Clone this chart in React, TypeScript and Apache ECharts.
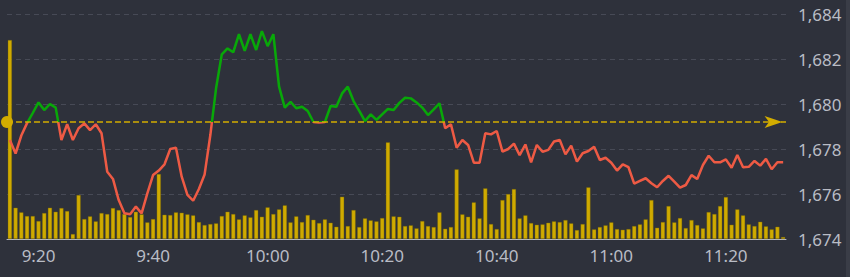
import React, { useEffect, useRef } from 'react';
import * as echarts from 'echarts';

const BASELINE = 1679.2;
const PRICE_MIN = 1674;
const PRICE_MAX = 1684;
const PRICE_STEP = 2;
const VOLUME_MAX = 2250;
const SESSION_START = '9:15';
const LABEL_MINUTES = ['00', '20', '40'];

const prices = [
  1678.4, 1677.8, 1678.6, 1679.15, 1679.6, 1680.07, 1679.73, 1680.0, 1679.84, 1678.4,
  1679.1, 1678.4, 1678.92, 1679.14, 1678.84, 1679.1, 1678.7, 1676.99, 1676.67, 1675.73,
  1675.14, 1675.1, 1675.44, 1675.14, 1676.03, 1676.84, 1677.04, 1677.32, 1678.0, 1678.06,
  1676.77, 1675.96, 1675.7, 1676.22, 1676.87, 1678.62, 1680.7, 1682.21, 1682.47, 1682.3,
  1683.1, 1682.36, 1683.1, 1682.4, 1683.24, 1682.57, 1683.1, 1680.77, 1679.84, 1680.1,
  1679.81, 1679.88, 1679.69, 1679.2, 1679.18, 1679.2, 1679.91, 1679.88, 1680.47, 1680.77,
  1680.13, 1679.69, 1679.24, 1679.54, 1679.29, 1679.54, 1679.78, 1679.73, 1680.05, 1680.28,
  1680.25, 1680.07, 1679.84, 1679.51, 1679.76, 1680.03, 1678.92, 1679.1, 1678.06, 1678.4,
  1678.18, 1677.39, 1677.39, 1678.7, 1678.65, 1678.8, 1677.88, 1678.0, 1678.24, 1677.73,
  1678.2, 1677.41, 1678.18, 1677.88, 1677.96, 1678.33, 1678.4, 1677.76, 1678.15, 1677.44,
  1677.81, 1677.91, 1678.1, 1677.51, 1677.61, 1677.39, 1677.04, 1677.32, 1677.19, 1676.46,
  1676.58, 1676.7, 1676.48, 1676.3, 1676.58, 1676.81, 1676.55, 1676.28, 1676.4, 1676.84,
  1676.67, 1677.29, 1677.7, 1677.41, 1677.41, 1677.54, 1677.17, 1677.73, 1677.19, 1677.21,
  1677.47, 1677.26, 1677.56, 1677.1, 1677.41, 1677.41,
];

const volumes = [
  1990, 313, 267, 230, 230, 180, 260, 313, 273, 310,
  280, 50, 440, 200, 227, 177, 260, 250, 310, 290,
  250, 220, 273, 247, 167, 200, 650, 243, 240, 267,
  263, 247, 237, 170, 140, 150, 157, 230, 273, 250,
  197, 237, 217, 290, 223, 317, 250, 297, 337, 167,
  227, 170, 240, 193, 160, 197, 163, 123, 423, 130,
  290, 120, 207, 187, 177, 210, 967, 227, 223, 130,
  137, 107, 180, 130, 120, 267, 103, 120, 697, 247,
  223, 367, 207, 507, 150, 100, 390, 450, 500, 207,
  237, 160, 143, 147, 163, 177, 170, 190, 157, 90,
  150, 517, 97, 120, 137, 167, 100, 93, 100, 130,
  147, 197, 390, 113, 170, 330, 167, 210, 110, 190,
  140, 107, 270, 250, 330, 420, 143, 297, 237, 147,
  130, 173, 127, 97, 123, 20,
];

// one category per trading minute, from the session start
const times: string[] = (() => {
  const [h, m] = SESSION_START.split(':').map(Number);
  const start = h * 60 + m;
  return prices.map((_, i) => {
    const t = start + i;
    return `${Math.floor(t / 60)}:${String(t % 60).padStart(2, '0')}`;
  });
})();

const isLabelTick = (_i: number, value: string) => LABEL_MINUTES.includes(String(value).split(':')[1]);

const ARROW = 'path://M0,0 L8.4,25 L0,18.75 L-8.4,25 Z';

export default function App() {
  const ref = useRef<HTMLDivElement>(null);
  useEffect(() => {
    const chart = echarts.init(ref.current!, null, { renderer: 'svg' });
    const axisColor = '#b6b9c2';
    const textColor = '#b9bcc5';
    const yellow = '#d2ac00';
    const up = '#08a808';
    const down = '#ee5a44';
    chart.setOption({
      animation: false,
      backgroundColor: '#2e313b',
      textStyle: { fontFamily: 'Noto Sans, sans-serif' },
      grid: { left: 7, right: 64, top: 14, bottom: 38 },
      graphic: [
        {
          type: 'rect',
          right: 0,
          top: 0,
          shape: { width: 4, height: 277 },
          style: { fill: '#3a3d47' },
          silent: true,
        },
      ],
      xAxis: {
        type: 'category',
        data: times,
        boundaryGap: true,
        axisLine: { lineStyle: { color: axisColor, width: 1 } },
        axisTick: { alignWithLabel: true, interval: isLabelTick, length: 5, lineStyle: { color: axisColor } },
        axisLabel: { interval: isLabelTick, color: textColor, fontSize: 17, margin: 8 },
        splitLine: { show: false },
      },
      yAxis: [
        {
          type: 'value',
          position: 'right',
          min: PRICE_MIN,
          max: PRICE_MAX,
          interval: PRICE_STEP,
          axisLine: { show: false },
          axisTick: { show: false },
          axisLabel: {
            color: textColor,
            fontSize: 17,
            margin: 12,
            formatter: (v: number) => v.toLocaleString('en-US'),
          },
          splitLine: { lineStyle: { color: '#474a56', type: [5, 4], width: 1 } },
        },
        { type: 'value', min: 0, max: VOLUME_MAX, show: false, splitLine: { show: false } },
      ],
      visualMap: {
        show: false,
        type: 'piecewise',
        seriesIndex: 0,
        dimension: 1,
        pieces: [
          { gte: PRICE_MIN - 10, lt: BASELINE, color: down },
          { gte: BASELINE, lte: PRICE_MAX + 10, color: up },
        ],
        outOfRange: { color: down },
      },
      series: [
        {
          type: 'line',
          data: prices.map((v, i) => [times[i], v]),
          showSymbol: false,
          lineStyle: { width: 2.5 },
          z: 4,
          markLine: {
            silent: true,
            label: { show: false },
            symbol: ['circle', ARROW],
            symbolSize: [12, 25],
            symbolKeepAspect: true,
            symbolOffset: [[0, 0], [0, 12.5]],
            lineStyle: { color: yellow, type: [6, 3], width: 1.5 },
            itemStyle: { color: yellow },
            data: [{ yAxis: BASELINE }],
          },
        },
        {
          type: 'bar',
          yAxisIndex: 1,
          data: volumes,
          barWidth: '74%',
          itemStyle: { color: '#cfaa00', borderColor: 'rgba(110,95,10,0.7)', borderWidth: 0.5 },
          z: 2,
        },
      ],
    });
    return () => chart.dispose();
  }, []);
  return <div ref={ref} style={{ position: 'fixed', left: 0, top: 0, width: 850, height: 277 }} />;
}
